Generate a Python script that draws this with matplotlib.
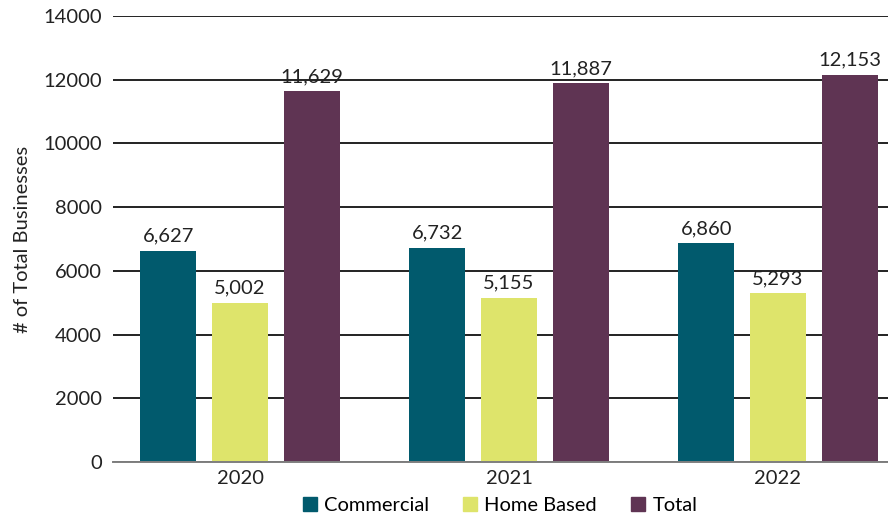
import numpy as np
import matplotlib.pyplot as plt
from matplotlib.patches import Patch

plt.rcParams['font.family'] = ['Lato', 'DejaVu Sans']

years = ['2020', '2021', '2022']
commercial = [6627, 6732, 6860]
home_based = [5002, 5155, 5293]
total = [11629, 11887, 12153]

series = [('Commercial', commercial, '#015a6d'),
          ('Home Based', home_based, '#dee46b'),
          ('Total', total, '#5f3453')]

fs = 14.5

fig = plt.figure(figsize=(8.88, 5.26), dpi=100)
ax = fig.add_axes([0.1273, 0.1217, 0.8727, 0.848])

x = np.arange(len(years))
width = 0.208
step = 0.266

for i, (name, vals, color) in enumerate(series):
    pos = x + (i - 1) * step
    bars = ax.bar(pos, vals, width, color=color, zorder=3, label=name)
    for b, v in zip(bars, vals):
        ax.text(b.get_x() + b.get_width() / 2, v + 200, f'{v:,}',
                ha='center', va='bottom', fontsize=fs, color='#222222')

ax.set_xlim(-0.472, 2.409)
ax.set_ylim(0, 14000)
ax.set_yticks(np.arange(0, 14001, 2000))
ax.set_xticks(x)
ax.set_xticklabels(years)
ax.tick_params(axis='both', length=0, labelsize=fs, colors='#222222')
ax.tick_params(axis='y', pad=8)
ax.tick_params(axis='x', pad=6)

ax.yaxis.grid(True, color='#222222', linewidth=1.4, zorder=0)
ax.set_axisbelow(True)
for s in ['top', 'right', 'left']:
    ax.spines[s].set_visible(False)
ax.spines['bottom'].set_color('#7f7f7f')
ax.spines['bottom'].set_linewidth(1.4)
ax.spines['bottom'].set_zorder(4)

ax.set_ylabel('# of Total Businesses', fontsize=fs, color='#222222', labelpad=9)

handles = [Patch(color=c) for _, _, c in series]
fig.legend(handles, [n for n, _, _ in series], loc='lower center',
           bbox_to_anchor=(0.563, -0.012), ncol=3, frameon=False, fontsize=fs,
           handlelength=0.7, handleheight=0.7, handletextpad=0.35,
           columnspacing=1.7)

fig.savefig('out.png', dpi=100)
